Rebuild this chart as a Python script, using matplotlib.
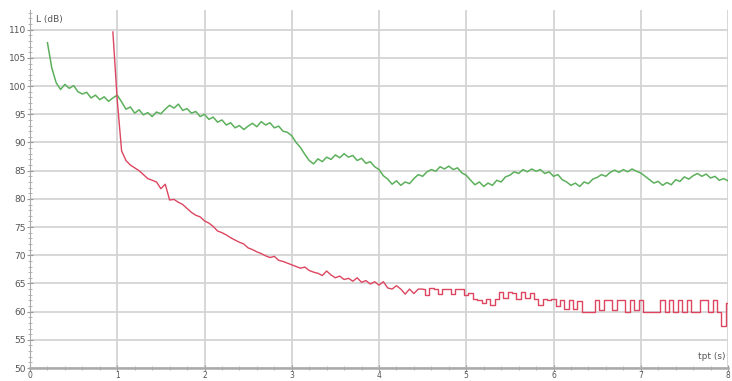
import numpy as np
import matplotlib
matplotlib.use("Agg")
import matplotlib.pyplot as plt
from matplotlib.ticker import MultipleLocator

# sampling grids (s)
green_t0, red_t0, dt = 0.20, 0.95, 0.05
red_step_from = 4.5  # red level is quantised from here on

# L (dB), green series from 0.20 s, every 0.05 s
green_db = [
    107.7, 103.2, 100.6, 99.4, 100.3, 99.6, 100.1, 99.0, 98.6, 98.9, 97.9, 98.4, 97.6, 98.1, 97.3, 97.9,
    98.4, 97.2, 95.9, 96.3, 95.2, 95.8, 94.9, 95.3, 94.6, 95.4, 95.1, 95.9, 96.6, 96.1, 96.8, 95.7, 96.0, 95.2, 95.5, 94.6,
    95.0, 94.1, 94.5, 93.6, 94.0, 93.1, 93.5, 92.6, 93.0, 92.3, 92.9, 93.4, 92.8, 93.7, 93.1, 93.5, 92.6, 92.9, 92.0, 91.8,
    91.2, 90.0, 89.1, 87.9, 86.8, 86.2, 87.1, 86.6, 87.4, 87.0, 87.8, 87.3, 88.0, 87.4, 87.7, 86.8, 87.2, 86.3, 86.6, 85.7,
    85.2, 84.1, 83.5, 82.6, 83.2, 82.4, 83.0, 82.7, 83.6, 84.3, 84.0, 84.8, 85.2, 84.9, 85.7, 85.3, 85.8, 85.2, 85.5, 84.6,
    84.2, 83.3, 82.5, 83.0, 82.2, 82.8, 82.4, 83.3, 83.0, 83.9, 84.2, 84.8, 84.5, 85.2, 84.8, 85.3, 84.9, 85.2, 84.5, 84.8,
    84.0, 84.3, 83.4, 83.0, 82.4, 82.8, 82.2, 83.0, 82.7, 83.5, 83.8, 84.3, 84.0, 84.7, 85.1, 84.7, 85.2, 84.8, 85.3, 84.9,
    84.6, 84.0, 83.4, 82.8, 83.1, 82.4, 82.9, 82.5, 83.4, 83.1, 83.9, 83.5, 84.1, 84.5, 84.0, 84.4, 83.7, 84.0, 83.3, 83.6,
    83.2,
]

# L (dB), red series from 0.95 s, every 0.05 s
red_db = [
    109.6,
    97.5, 88.5, 86.8, 86.0, 85.5, 85.0, 84.3, 83.6, 83.3, 83.0, 81.8, 82.6, 79.8, 79.9, 79.4, 79.0, 78.3, 77.6, 77.1, 76.8,
    76.1, 75.7, 75.1, 74.3, 74.0, 73.6, 73.1, 72.7, 72.3, 72.0, 71.3, 71.0, 70.6, 70.3, 69.9, 69.6, 69.8, 69.1, 68.9, 68.6,
    68.3, 68.0, 67.7, 67.9, 67.3, 67.0, 66.8, 66.4, 67.2, 66.5, 66.0, 66.3, 65.7, 65.9, 65.4, 66.0, 65.2, 65.5, 64.9, 65.3,
    64.7, 65.3, 64.2, 64.0, 64.6, 64.0, 63.1, 64.0, 63.2, 64.0, 64.0, 63.0, 64.2, 64.0, 63.1, 64.0, 64.0, 63.2, 64.0, 64.0,
    63.0, 63.3, 62.2, 62.0, 61.5, 62.3, 61.2, 62.3, 63.4, 62.5, 63.5, 63.3, 62.2, 63.4, 62.4, 63.3, 62.3, 61.2, 62.2, 62.0,
    62.2, 61.0, 62.0, 60.5, 62.0, 60.5, 61.8, 60.0, 60.0, 60.0, 62.0, 60.2, 62.0, 62.0, 60.2, 62.0, 62.0, 60.0, 62.0, 60.2,
    62.0, 60.0, 60.0, 60.0, 60.0, 62.0, 60.0, 62.0, 60.0, 62.0, 60.0, 62.0, 60.0, 60.0, 62.0, 62.0, 60.0, 62.0, 60.0, 57.5,
    61.5,
]

green_t = green_t0 + dt * np.arange(len(green_db))
red_t = red_t0 + dt * np.arange(len(red_db))
red_db = np.array(red_db)
k = int(np.searchsorted(red_t, red_step_from))

fig = plt.figure(figsize=(7.32, 3.81), dpi=100)
ax = fig.add_axes([30 / 732, 13 / 381, 698 / 732, 358 / 381])

ax.plot(green_t, green_db, color="#5cb05c", lw=1.1)
ax.plot(red_t[:k + 1], red_db[:k + 1], color="#dc4660", lw=1.0)
ax.plot(red_t[k:], red_db[k:], color="#dc4660", lw=1.0, drawstyle="steps-mid")

ax.set_xlim(0, 8)
ax.set_ylim(50, 113.5)
ax.xaxis.set_major_locator(MultipleLocator(1))
ax.xaxis.set_minor_locator(MultipleLocator(0.2))
ax.yaxis.set_major_locator(MultipleLocator(5))
ax.yaxis.set_minor_locator(MultipleLocator(1))
ax.grid(True, which="major", color="#d4d4d4", lw=1.3)
ax.set_axisbelow(True)

for s in ["top", "right"]:
    ax.spines[s].set_visible(False)
ax.spines["left"].set_color("#aaaaaa")
ax.spines["bottom"].set_color("#aaaaaa")
ax.spines["bottom"].set_linewidth(1.8)

ax.tick_params(which="major", length=4, color="#999999", labelsize=6.5,
               labelcolor="#555555", pad=1, direction="inout")
ax.tick_params(axis="x", which="major", labelsize=5.5, pad=0)
ax.tick_params(which="minor", length=2.5, color="#aaaaaa", direction="inout")

ax.text(0.009, 0.985, "L (dB)", transform=ax.transAxes, fontsize=6.5,
        color="#555555", va="top", ha="left")
ax.text(0.997, 0.02, "tpt (s)", transform=ax.transAxes, fontsize=6.5,
        color="#555555", va="bottom", ha="right")

fig.savefig("out.png", dpi=100)
